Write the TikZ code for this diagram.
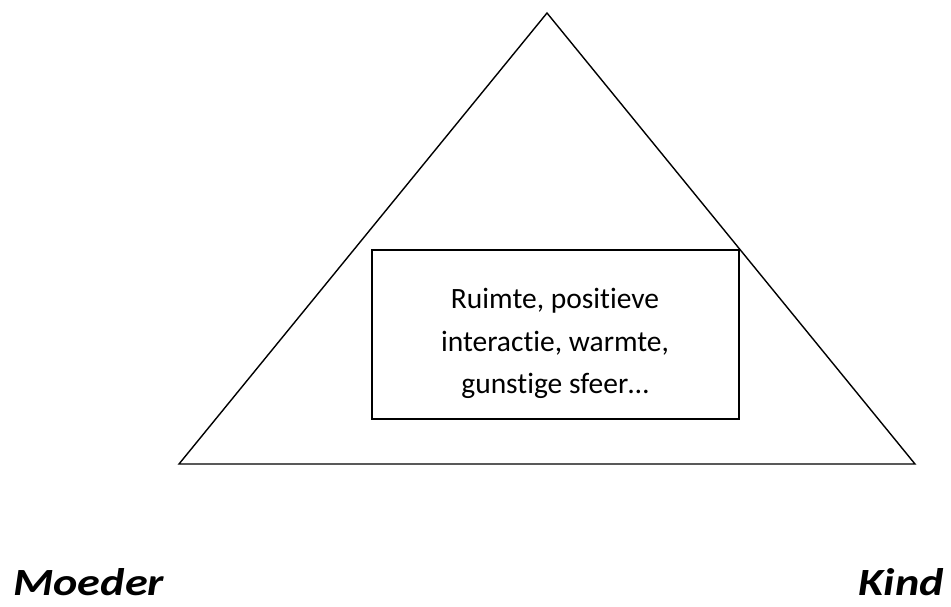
\documentclass[tikz,border=0pt]{standalone}
\usepackage{fontspec}
\setmainfont{Carlito}[Ligatures=NoCommon]
\newfontfamily\personfont{Carlito}[FakeStretch=1.2]
\begin{document}
\begin{tikzpicture}[x=1pt,y=-1pt,
  edge/.style={draw=black,line width=1.4pt,line join=miter},
  boxstyle/.style={draw=black,line width=1.4pt,minimum width=367pt,minimum height=169pt,inner sep=0pt},
  bodytext/.style={align=center,inner sep=0pt,font=\fontsize{29.5}{42.5}\selectfont},
  person/.style={inner sep=0pt,font=\personfont\fontsize{38.5}{40}\selectfont\bfseries\itshape}]
\useasboundingbox (0,0) rectangle (951,606);
\coordinate (apex) at (547,13);
\coordinate (bl) at (179,464);
\coordinate (br) at (915,464);
\draw[edge] (apex) -- (bl) -- (br) -- cycle;
\node[boxstyle,fill=white] (box) at (555.5,334.5) {};
\node[bodytext] (txt) at (555,343.5) {Ruimte, positieve\\interactie, warmte,\\gunstige sfeer…};
\node[person,anchor=base west] (moeder) at (13,595) {Moeder};
\node[person,anchor=base east] (kind) at (944,595) {Kind};
\end{tikzpicture}
\end{document}
